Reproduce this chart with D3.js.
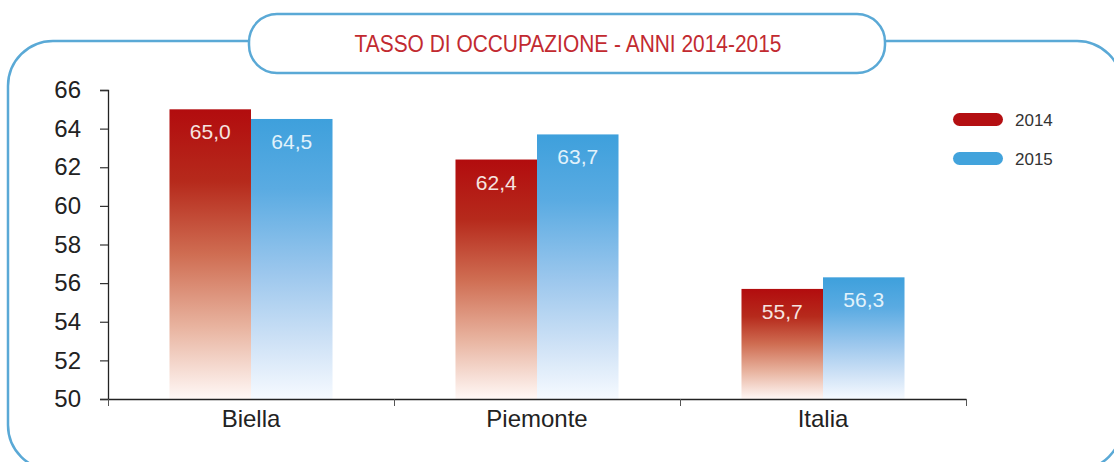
<!DOCTYPE html>
<html><head><meta charset="utf-8">
<script src="https://cdn.jsdelivr.net/npm/d3@7"></script>
<style>
html,body{margin:0;padding:0;background:#fff;}
svg{display:block;font-family:"Liberation Sans",Arial,sans-serif;}
</style></head>
<body><svg id="c" width="1114" height="462"></svg>
<script>
const categories = ["Biella", "Piemonte", "Italia"];
const seriesNames = ["2014", "2015"];
const values2014 = [65.0, 62.4, 55.7];
const values2015 = [64.5, 63.7, 56.3];
const yTicks = [50, 52, 54, 56, 58, 60, 62, 64, 66];
const title = "TASSO DI OCCUPAZIONE - ANNI 2014-2015";
const fmt = v => v.toFixed(1).replace(".", ",");

(function(){
const svg = d3.select("#c");
const defs = svg.append("defs");
function grad(id, stops){
  const g = defs.append("linearGradient").attr("id", id)
    .attr("x1",0).attr("y1",0).attr("x2",0).attr("y2",1);
  stops.forEach(s => g.append("stop").attr("offset", s[0]).attr("stop-color", s[1]));
}
grad("gRed", [[0,"#b20c0e"],[0.25,"#b62a1c"],[0.5,"#cf6d52"],[0.75,"#e8b39f"],[1,"#fff8f6"]]);
grad("gBlue", [[0,"#3ea0dc"],[0.25,"#5aabe2"],[0.55,"#9cc7ed"],[0.8,"#cfe2f6"],[1,"#f6faff"]]);
const fills = ["url(#gRed)", "url(#gBlue)"];
const legendColors = ["#b40f12", "#42a3dc"];
const labelColors = ["#f6e4e0", "#e2f2fb"];

// frame
svg.append("rect").attr("x", 8).attr("y", 41).attr("width", 1114).attr("height", 429)
  .attr("rx", 45).attr("fill", "none").attr("stroke", "#5aa9d6").attr("stroke-width", 2.5);
svg.append("rect").attr("x", 249).attr("y", 14).attr("width", 636).attr("height", 59)
  .attr("rx", 28).attr("fill", "#fff").attr("stroke", "#5aa9d6").attr("stroke-width", 2.5);
svg.append("text").attr("x", 568).attr("y", 51.5).attr("text-anchor", "middle")
  .attr("font-size", 24).attr("textLength", 427).attr("lengthAdjust", "spacingAndGlyphs")
  .attr("fill", "#c22a30").text(title);

const pLeft = 108, pRight = 966, pTop = 90, pBottom = 399;
const y = d3.scaleLinear().domain([50, 66]).range([pBottom, pTop]);
const x = d3.scaleBand().domain(categories).range([pLeft, pRight]).padding(0);
const xb = d3.scaleLinear().domain([0, categories.length]).range([pLeft, pRight]);
const bw = x.bandwidth();
const xs = d3.scaleBand().domain(seriesNames).range([bw * 0.215, bw * 0.785]).padding(0);

const data = categories.map((c, i) => ({cat: c, vals: [values2014[i], values2015[i]]}));

const g = svg.append("g");
const grp = g.selectAll("g.cat").data(data).join("g").attr("class", "cat")
  .attr("transform", d => `translate(${x(d.cat)},0)`);
grp.selectAll("rect").data(d => d.vals.map((v, j) => ({v, j})))
  .join("rect")
  .attr("x", d => xs(seriesNames[d.j]))
  .attr("width", xs.bandwidth())
  .attr("y", d => y(d.v))
  .attr("height", d => pBottom - y(d.v))
  .attr("fill", d => fills[d.j]);
grp.selectAll("text.val").data(d => d.vals.map((v, j) => ({v, j})))
  .join("text").attr("class", "val")
  .attr("x", d => xs(seriesNames[d.j]) + xs.bandwidth() / 2)
  .attr("y", d => y(d.v) + 30)
  .attr("text-anchor", "middle").attr("font-size", 21)
  .attr("fill", d => labelColors[d.j]).text(d => fmt(d.v));

// y axis
const ya = svg.append("g").attr("transform", `translate(${pLeft},0)`)
  .call(d3.axisLeft(y).tickValues(yTicks).tickSize(8).tickPadding(19).tickFormat(d3.format("d")));
ya.select(".domain").attr("stroke", "#222").attr("stroke-width", 1.3);
ya.selectAll(".tick line").attr("stroke", "#333").attr("stroke-width", 1.2);
ya.selectAll("text").attr("font-size", 24).attr("fill", "#222").attr("font-family", "'Liberation Sans',Arial,sans-serif");

// x axis boundaries
const xa = svg.append("g").attr("transform", `translate(0,${pBottom})`)
  .call(d3.axisBottom(xb).tickValues(d3.range(categories.length + 1)).tickSize(7).tickSizeOuter(0).tickFormat(""));
xa.select(".domain").attr("stroke", "#222").attr("stroke-width", 1.3);
xa.selectAll(".tick line").attr("stroke", "#555").attr("stroke-width", 1);
const xl = svg.append("g").attr("transform", `translate(0,${pBottom})`)
  .call(d3.axisBottom(x).tickSize(0).tickPadding(11));
xl.select(".domain").remove();
xl.selectAll("text").attr("font-size", 24).attr("fill", "#222").attr("font-family", "'Liberation Sans',Arial,sans-serif");

// legend
const lg = svg.append("g").selectAll("g").data(seriesNames).join("g")
  .attr("transform", (d, i) => `translate(953,${113 + i * 39})`);
lg.append("rect").attr("width", 50).attr("height", 13).attr("rx", 6.5)
  .attr("fill", (d, i) => legendColors[i]);
lg.append("text").attr("x", 62).attr("y", 13).attr("font-size", 17).attr("fill", "#333").text(d => d);
})();
</script></body></html>
